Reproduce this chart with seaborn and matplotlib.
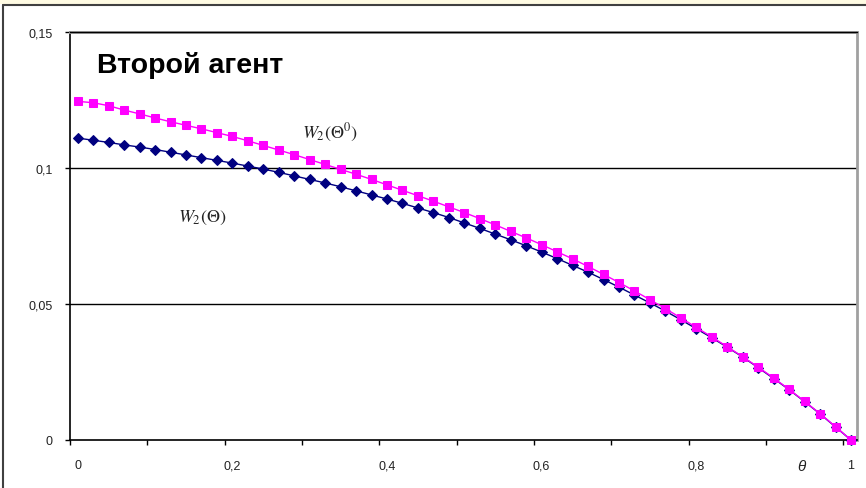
import numpy as np
import pandas as pd
import seaborn as sns
import matplotlib.pyplot as plt
from matplotlib.patches import Rectangle
from matplotlib.lines import Line2D

# theta grid, step 0.02
theta = np.round(np.arange(51) * 0.02, 2)

# W2(Θ⁰) - magenta squares
w2_opt = [0.1245, 0.1240, 0.1229, 0.1213, 0.1199, 0.1184, 0.1170, 0.1157, 0.1144, 0.1130,
          0.1116, 0.1100, 0.1083, 0.1066, 0.1049, 0.1031, 0.1013, 0.0995, 0.0977, 0.0958,
          0.0938, 0.0918, 0.0898, 0.0878, 0.0857, 0.0836, 0.0814, 0.0791, 0.0767, 0.0743,
          0.0718, 0.0692, 0.0666, 0.0638, 0.0609, 0.0579, 0.0548, 0.0516, 0.0483, 0.0449,
          0.0414, 0.0379, 0.0343, 0.0306, 0.0268, 0.0228, 0.0186, 0.0142, 0.0097, 0.0049,
          0.0]

# W2(Θ) - navy diamonds
w2 = [0.1110, 0.1102, 0.1094, 0.1085, 0.1077, 0.1068, 0.1058, 0.1048, 0.1038, 0.1028,
      0.1018, 0.1007, 0.0996, 0.0984, 0.0971, 0.0958, 0.0945, 0.0931, 0.0916, 0.0901,
      0.0886, 0.0870, 0.0853, 0.0836, 0.0818, 0.0798, 0.0778, 0.0757, 0.0736, 0.0714,
      0.0691, 0.0667, 0.0642, 0.0617, 0.0590, 0.0562, 0.0533, 0.0504, 0.0474, 0.0442,
      0.0409, 0.0376, 0.0341, 0.0305, 0.0266, 0.0226, 0.0185, 0.0141, 0.0096, 0.0048,
      0.0]

x_ticks = [0, 0.2, 0.4, 0.6, 0.8, 1.0]
x_labels = ['0', '0,2', '0,4', '0,6', '0,8', '1']
y_ticks = [0, 0.05, 0.1, 0.15]
y_labels = ['0', '0,05', '0,1', '0,15']

sns.set_theme(style='white')
plt.rcParams['font.family'] = ['Liberation Sans', 'DejaVu Sans']
plt.rcParams['mathtext.fontset'] = 'stix'

fig = plt.figure(figsize=(8.66, 4.89), dpi=100)
ax = fig.add_axes([70 / 866, 48 / 489, 787 / 866, 408 / 489])

df = pd.DataFrame({'theta': theta, 'w2': w2, 'w2_opt': w2_opt})
sns.lineplot(data=df, x='theta', y='w2', ax=ax, color='#000080', lw=1,
             marker='D', markersize=4.8, markeredgecolor='#000080', clip_on=False, zorder=4)
sns.lineplot(data=df, x='theta', y='w2_opt', ax=ax, color='#ff00ff', lw=1,
             marker='s', markersize=5.5, markeredgecolor='#ff00ff', clip_on=False, zorder=5)

ax.set_xlim(-0.01, 1.0078)
ax.set_ylim(0, 0.15)
ax.set_xlabel('')
ax.set_ylabel('')

ax.set_xticks(x_ticks, x_labels)
ax.set_xticks(np.arange(11) * 0.1 - 0.01, minor=True)
ax.tick_params(axis='x', which='major', length=0, pad=14, labelsize=9, labelcolor='#222222')
ax.tick_params(axis='x', which='minor', length=3.5, width=1, direction='out', color='black', bottom=True)
ax.set_yticks(y_ticks, y_labels)
ax.tick_params(axis='y', length=3.5, width=1, direction='out', color='black', left=True,
               pad=9, labelsize=9, labelcolor='#222222')

for y in [0.05, 0.1]:
    ax.axhline(y, color='black', lw=1, zorder=1)
ax.axhline(0.15, color='black', lw=1, zorder=3, clip_on=False)

ax.spines['left'].set_color('black')
ax.spines['bottom'].set_color('black')
ax.spines['left'].set_linewidth(1.2)
ax.spines['bottom'].set_linewidth(1.2)
ax.spines['top'].set_color('#a0a0a0')
ax.spines['right'].set_color('#a0a0a0')
ax.spines['top'].set_linewidth(2)
ax.spines['right'].set_linewidth(2)

ax.text(0.0343, 0.902, 'Второй агент', transform=ax.transAxes, fontsize=20.5,
        fontweight='bold', va='baseline', ha='left', color='black')
ax.text(0.330, 0.755, r'$W_2(\Theta^0)$', transform=ax.transAxes, fontsize=13,
        ha='center', va='center', color='#222222')
ax.text(0.168, 0.547, r'$W_2(\Theta)$', transform=ax.transAxes, fontsize=13,
        ha='center', va='center', color='#222222')
ax.text(0.929, -0.064, 'θ', transform=ax.transAxes, fontsize=11, fontstyle='italic',
        ha='center', va='center', color='#222222')

# chart area frame and top strip
fig.add_artist(Rectangle((0, 1 - 5 / 489), 1, 5 / 489, transform=fig.transFigure,
                         color='#fffbe3', lw=0))
fig.add_artist(Line2D([3 / 866, 3 / 866], [0, 1 - 6 / 489], transform=fig.transFigure,
                      color='#404040', lw=1.5))
fig.add_artist(Line2D([3 / 866, 1], [1 - 6 / 489, 1 - 6 / 489], transform=fig.transFigure,
                      color='#404040', lw=1.5))

fig.savefig('out.png', dpi=100)
